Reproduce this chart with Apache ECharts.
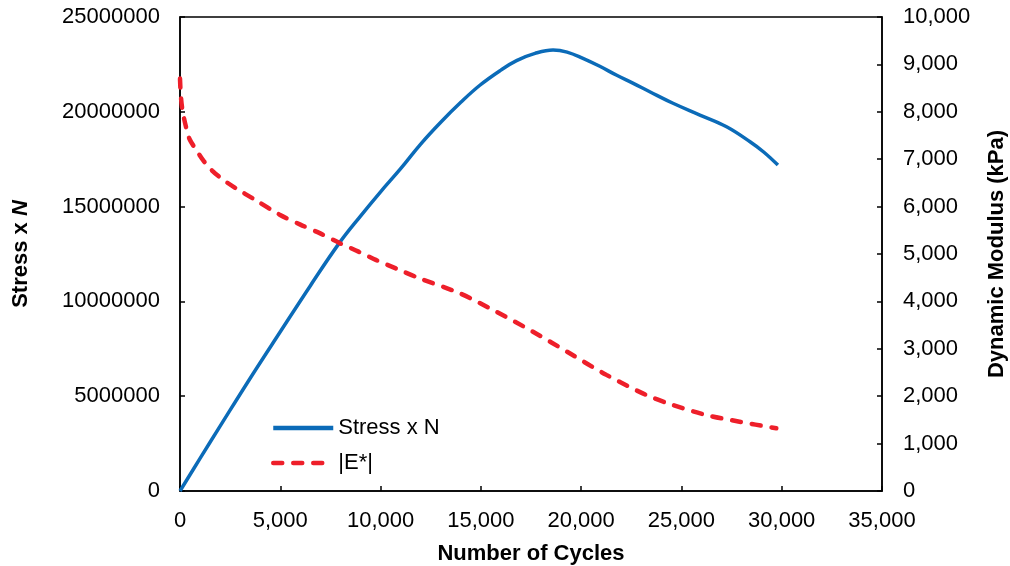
<!DOCTYPE html>
<html>
<head>
<meta charset="utf-8">
<script src="https://cdn.jsdelivr.net/npm/echarts@6/dist/echarts.min.js"></script>
<style>html,body{margin:0;padding:0;background:#fff}#c{width:1010px;height:566px}</style>
</head>
<body>
<div id="c"></div>
<script>
// Stress x N (left axis)
const stressCycles = [0, 1000, 2000, 3500, 5000, 6500, 7930, 9000, 10000, 11000, 12000, 13000, 14000, 14950, 16000, 16780, 17700, 18600, 19300, 20090, 20930, 21750, 22600, 23420, 24580, 25920, 27250, 28420, 29100, 29810];
const stressValues = [0, 1720000, 3420000, 5950000, 8400000, 10830000, 13060000, 14500000, 15780000, 17000000, 18300000, 19450000, 20500000, 21400000, 22200000, 22700000, 23080000, 23260000, 23150000, 22820000, 22400000, 21940000, 21500000, 21060000, 20450000, 19830000, 19210000, 18420000, 17880000, 17190000];
// |E*| (right axis, kPa)
const modCycles = [0, 40, 120, 300, 480, 820, 1150, 1600, 2140, 2810, 3720, 4970, 6000, 6965, 7960, 8900, 9790, 10800, 11865, 13950, 15780, 17600, 19430, 21260, 23250, 24580, 26240, 27900, 29730];
const modValues = [8700, 8350, 8040, 7680, 7420, 7190, 6980, 6760, 6570, 6380, 6150, 5830, 5620, 5440, 5230, 5050, 4870, 4690, 4500, 4170, 3780, 3360, 2905, 2450, 2025, 1814, 1603, 1462, 1322];

const seriesNames = ['Stress x N', '|E*|'];

const pair = (xs, ys) => xs.map((x, i) => [x, ys[i]]);
const commas = v => String(v).replace(/\B(?=(\d{3})+(?!\d))/g, ',');
const FONT = 'Liberation Sans, Arial, sans-serif';
const chart = echarts.init(document.getElementById('c'), null, {renderer: 'canvas'});
chart.setOption({
  animation: false,
  backgroundColor: '#fff',
  textStyle: {fontFamily: FONT},
  grid: {left: 180, right: 128, top: 17, bottom: 75, show: true, borderColor: '#000', borderWidth: 1.5,
         containLabel: false, outerBoundsMode: 'none'},
  legend: {
    left: 266, top: 412, orient: 'vertical', itemWidth: 60, itemHeight: 14, itemGap: 13,
    data: seriesNames,
    itemStyle: {color: 'rgba(0,0,0,0)', borderWidth: 0, opacity: 0},
    lineStyle: {width: 4.5},
    textStyle: {fontFamily: FONT, fontSize: 22, color: '#000'}
  },
  xAxis: {
    type: 'value', min: 0, max: 35000, interval: 5000,
    name: 'Number of Cycles', nameLocation: 'middle', nameGap: 52,
    nameTextStyle: {fontFamily: FONT, fontSize: 22, fontWeight: 'bold', color: '#000'},
    axisLine: {show: true, onZero: false, lineStyle: {color: '#000', width: 1.5}},
    axisTick: {show: true, inside: true, length: 5, lineStyle: {color: '#000', width: 1.5}},
    axisLabel: {fontFamily: FONT, fontSize: 22, color: '#000', margin: 19, formatter: v => commas(v)},
    splitLine: {show: false}
  },
  yAxis: [{
    type: 'value', min: 0, max: 25000000, interval: 5000000, position: 'left',
    name: '{a|Stress x }{b|N}', nameLocation: 'middle', nameGap: 148, nameRotate: 90,
    nameTextStyle: {fontFamily: FONT, fontSize: 22, fontWeight: 'bold', color: '#000',
      rich: {a: {fontFamily: FONT, fontSize: 22, fontWeight: 'bold', color: '#000'},
             b: {fontFamily: FONT, fontSize: 22, fontWeight: 'bold', fontStyle: 'italic', color: '#000'}}},
    axisLine: {show: true, lineStyle: {color: '#000', width: 1.5}},
    axisTick: {show: true, inside: true, length: 5, lineStyle: {color: '#000', width: 1.5}},
    axisLabel: {fontFamily: FONT, fontSize: 22, color: '#000', margin: 20, formatter: v => String(v)},
    splitLine: {show: false}
  }, {
    type: 'value', min: 0, max: 10000, interval: 1000, position: 'right',
    name: 'Dynamic Modulus (kPa)', nameLocation: 'middle', nameGap: 104, nameRotate: 90,
    nameTextStyle: {fontFamily: FONT, fontSize: 22, fontWeight: 'bold', color: '#000'},
    axisLine: {show: true, lineStyle: {color: '#000', width: 1.5}},
    axisTick: {show: true, inside: true, length: 5, lineStyle: {color: '#000', width: 1.5}},
    axisLabel: {fontFamily: FONT, fontSize: 22, color: '#000', margin: 21, formatter: v => commas(v)},
    splitLine: {show: false}
  }],
  series: [{
    name: seriesNames[0], type: 'line', yAxisIndex: 0, showSymbol: false, symbol: 'none', smooth: 0.4,
    data: pair(stressCycles, stressValues),
    lineStyle: {color: '#0B6BB8', width: 3.5},
    itemStyle: {color: '#0B6BB8'}
  }, {
    name: seriesNames[1], type: 'line', yAxisIndex: 1, showSymbol: false, symbol: 'none', smooth: 0.3,
    data: pair(modCycles, modValues),
    lineStyle: {color: '#EE1F2A', width: 4.5, type: [9, 11], cap: 'round'},
    itemStyle: {color: '#EE1F2A'}
  }]
});
</script>
</body>
</html>
